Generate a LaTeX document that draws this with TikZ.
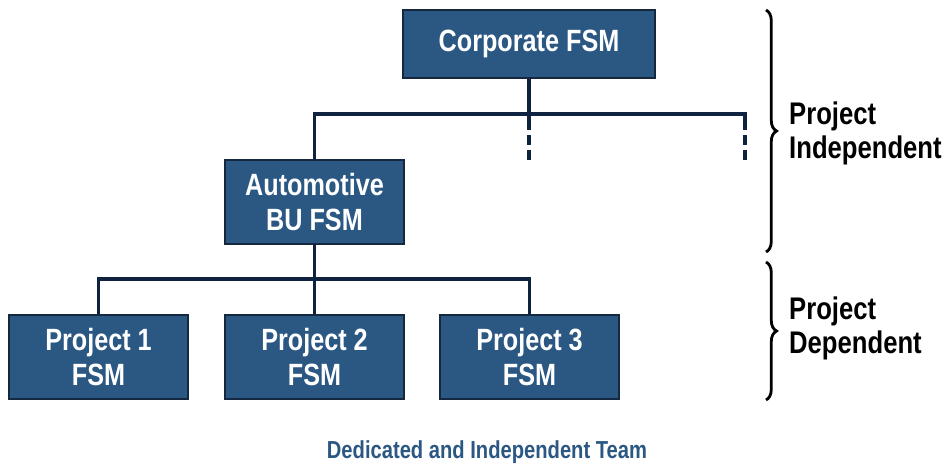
\documentclass[tikz,border=0pt]{standalone}
\usepackage{fontspec}
\setmainfont{Liberation Sans}[FakeStretch=0.82]
\usepackage{xcolor}
\usetikzlibrary{calc,decorations.pathreplacing}
\definecolor{boxblue}{HTML}{2B5783}
\definecolor{boxedge}{HTML}{16283F}
\definecolor{linenavy}{HTML}{0F2340}
\tikzset{
  fsm/.style={draw=boxedge,line width=1pt,fill=boxblue,text=white,font=\bfseries\fontsize{17.5}{20.4}\selectfont,
    align=center,minimum width=3.58cm,minimum height=1.68cm,inner sep=0pt},
  wire/.style={draw=linenavy,line width=2.1pt},
  dashwire/.style={wire,dash pattern=on 5.7pt off 2.8pt},
  brace/.style={decorate,decoration={brace,amplitude=6pt},line width=1.6pt},
  side/.style={anchor=west,align=left,font=\bfseries\fontsize{17.8}{19.4}\selectfont}
}
\begin{document}
\begin{tikzpicture}[x=0.02cm,y=-0.02cm]
      \useasboundingbox (0,0) rectangle (946,467);
      \node[fsm,minimum width=5.04cm,minimum height=1.36cm] (corp) at (529,44) {Corporate FSM};
      \node[fsm] (auto) at (314.5,202) {Automotive\\BU FSM};
      \node[fsm] (pa) at (98.5,357) {Project 1\\FSM};
      \node[fsm] (pb) at (314.5,357) {Project 2\\FSM};
      \node[fsm] (pc) at (529.5,357) {Project 3\\FSM};
      \coordinate (top) at (529,114);
      \coordinate (mid) at (314.5,279);
      \coordinate (l1) at (529,120);
      \coordinate (r1) at (745,120);
      \coordinate (d1) at (529,163);
      \coordinate (d2) at (745,163);
      % upper level
      \draw[wire] (corp.south) -- (l1);
      \draw[wire] (auto.north) |- (top) -| (r1);
      \draw[dashwire] (l1) -- (d1);
      \draw[dashwire] (r1) -- (d2);
      % project level
      \draw[wire] (auto.south) -- (mid);
      \draw[wire] (pa.north) |- (mid) -| (pc.north);
      \draw[wire] (mid) -- (pb.north);
      % braces
      \draw[brace] (766,10) -- (766,252);
      \draw[brace] (766,262) -- (766,400);
      \node[side] (indep) at (783,133) {Project\\Independent};
      \node[side] (dep) at (783,328) {Project\\Dependent};
      \node[font=\bfseries\fontsize{14}{16}\selectfont,text=boxblue] (team) at (487,452) {Dedicated and Independent Team};
\end{tikzpicture}
\end{document}
